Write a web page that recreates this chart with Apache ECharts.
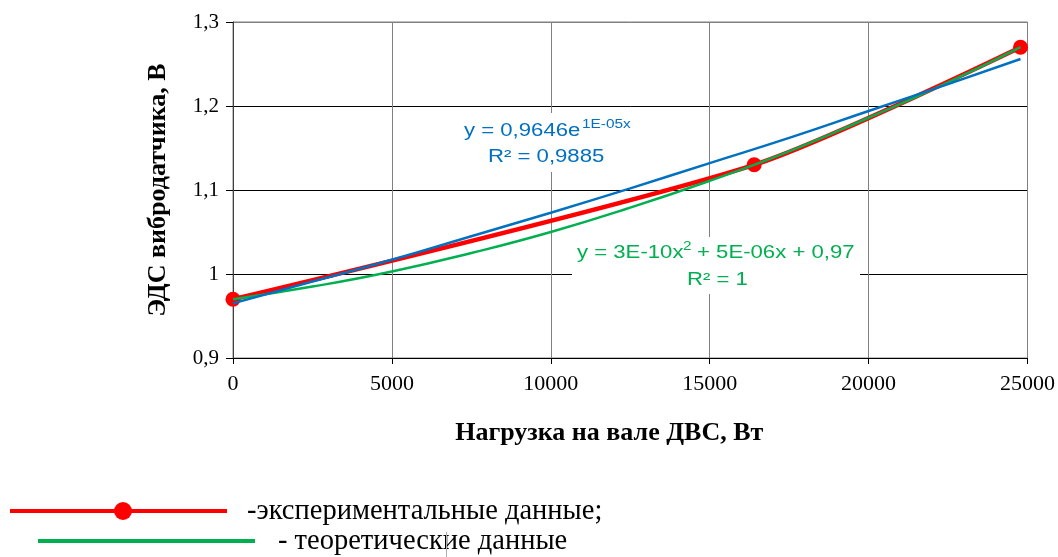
<!DOCTYPE html>
<html><head><meta charset="utf-8">
<script src="https://cdn.jsdelivr.net/npm/echarts@6/dist/echarts.min.js"></script>
<style>html,body{margin:0;padding:0;background:#fff}#c{width:1058px;height:557px}</style>
</head><body><div id="c"></div>
<script>
// Experimental data
const expX = [0, 16400, 24780];
const expY = [0.97, 1.13, 1.27];
// Polynomial trend (green)
const polyX = [0, 2500, 5000, 7500, 10000, 12500, 15000, 17500, 20000, 22500, 24780];
const polyY = [0.970, 0.985, 1.003, 1.025, 1.050, 1.079, 1.111, 1.146, 1.186, 1.228, 1.270];
// Exponential trend (blue)
const expoX = [0, 2500, 5000, 7500, 10000, 12500, 15000, 17500, 20000, 22500, 24780];
const expoY = [0.965, 0.991, 1.017, 1.045, 1.073, 1.102, 1.132, 1.162, 1.194, 1.226, 1.256];
const xTicks = [0, 5000, 10000, 15000, 20000, 25000];
const yTicks = [0.9, 1.0, 1.1, 1.2, 1.3];

const zip = (a, b) => a.map((v, i) => [v, b[i]]);
const chart = echarts.init(document.getElementById('c'));
const serif = '"Liberation Serif", "Times New Roman", serif';
const sans = '"Liberation Sans", Arial, sans-serif';
const SX = 1.23;
function eqText(x, y, text, size, color) {
  return { type: 'text', x: x, y: y, scaleX: SX, z: 10,
    style: { text: text, fill: color, font: size + 'px ' + sans, textAlign: 'left', textVerticalAlign: 'middle' } };
}
chart.setOption({
  animation: false,
  grid: { left: 233, top: 22, right: 30, bottom: 199, show: true, borderColor: '#808080', borderWidth: 1 },
  xAxis: {
    type: 'value', min: 0, max: 25000, interval: 5000,
    axisLine: { show: true, onZero: false, lineStyle: { color: '#000', width: 1 } },
    axisTick: { show: true, length: 6, lineStyle: { color: '#000' } },
    axisLabel: { color: '#000', fontFamily: serif, fontSize: 22, margin: 15, formatter: v => String(v) },
    splitLine: { show: true, lineStyle: { color: '#808080', width: 1 } },
    name: 'Нагрузка на вале ДВС, Вт', nameLocation: 'middle', nameGap: 62,
    nameTextStyle: { color: '#000', fontFamily: serif, fontSize: 26, fontWeight: 'bold', padding: [0, 42, 0, 0] }
  },
  yAxis: {
    type: 'value', min: 0.9, max: 1.3, interval: 0.1,
    axisLine: { show: true, onZero: false, lineStyle: { color: '#404040', width: 1 } },
    axisTick: { show: true, length: 7, lineStyle: { color: '#000' } },
    axisLabel: { color: '#000', fontFamily: serif, fontSize: 21, margin: 14,
      formatter: v => String(Math.round(v * 10) / 10).replace('.', ',') },
    splitLine: { show: true, lineStyle: { color: ['#000', '#000', '#000', '#000', '#808080'], width: 1 } },
    name: 'ЭДС вибродатчика, В', nameLocation: 'middle', nameGap: 62,
    nameTextStyle: { color: '#000', fontFamily: serif, fontSize: 26, fontWeight: 'bold' }
  },
  series: [
    { name: 'exp', type: 'line', data: zip(expX, expY), smooth: 0.25, z: 2,
      lineStyle: { color: '#FF0000', width: 4.5 }, itemStyle: { color: '#FF0000' },
      symbol: 'circle', symbolSize: 15, showSymbol: true },
    { name: 'poly', type: 'line', data: zip(polyX, polyY), smooth: true, z: 3, symbol: 'none',
      lineStyle: { color: '#00B050', width: 2.5 } },
    { name: 'expo', type: 'line', data: zip(expoX, expoY), smooth: true, z: 4, symbol: 'none',
      lineStyle: { color: '#0070C0', width: 2.5 } }
  ],
  graphic: [
    { type: 'rect', shape: { x: 455, y: 113, width: 185, height: 59 }, z: 9, style: { fill: '#fff' } },
    eqText(464, 131, 'y = 0,9646e', 18, '#0070C0'),
    eqText(582, 125, '1E-05x', 12.5, '#0070C0'),
    eqText(488, 157, 'R² = 0,9885', 18, '#0070C0'),
    { type: 'rect', shape: { x: 572, y: 237, width: 288, height: 57 }, z: 9, style: { fill: '#fff' } },
    eqText(577, 253, 'y = 3E-10x', 18, '#00B050'),
    eqText(683, 247, '2', 12.5, '#00B050'),
    eqText(697, 253, '+ 5E-06x + 0,97', 18, '#00B050'),
    eqText(687, 280, 'R² = 1', 18, '#00B050'),
    // legend
    { type: 'line', shape: { x1: 10, y1: 511, x2: 227, y2: 511 }, style: { stroke: '#FF0000', lineWidth: 4 } },
    { type: 'circle', shape: { cx: 123, cy: 511, r: 9 }, style: { fill: '#FF0000' } },
    { type: 'text', x: 247, y: 512, style: { text: '-экспериментальные данные;', fill: '#000', font: '28.5px ' + serif, textVerticalAlign: 'middle' } },
    { type: 'line', shape: { x1: 38, y1: 541, x2: 255, y2: 541 }, style: { stroke: '#00B050', lineWidth: 4 } },
    { type: 'text', x: 278, y: 542, style: { text: '- теоретические данные', fill: '#000', font: '28.5px ' + serif, textVerticalAlign: 'middle' } },
    { type: 'line', shape: { x1: 446.5, y1: 532, x2: 446.5, y2: 557 }, style: { stroke: '#b0b0b0', lineWidth: 1 } }
  ]
});
</script></body></html>
